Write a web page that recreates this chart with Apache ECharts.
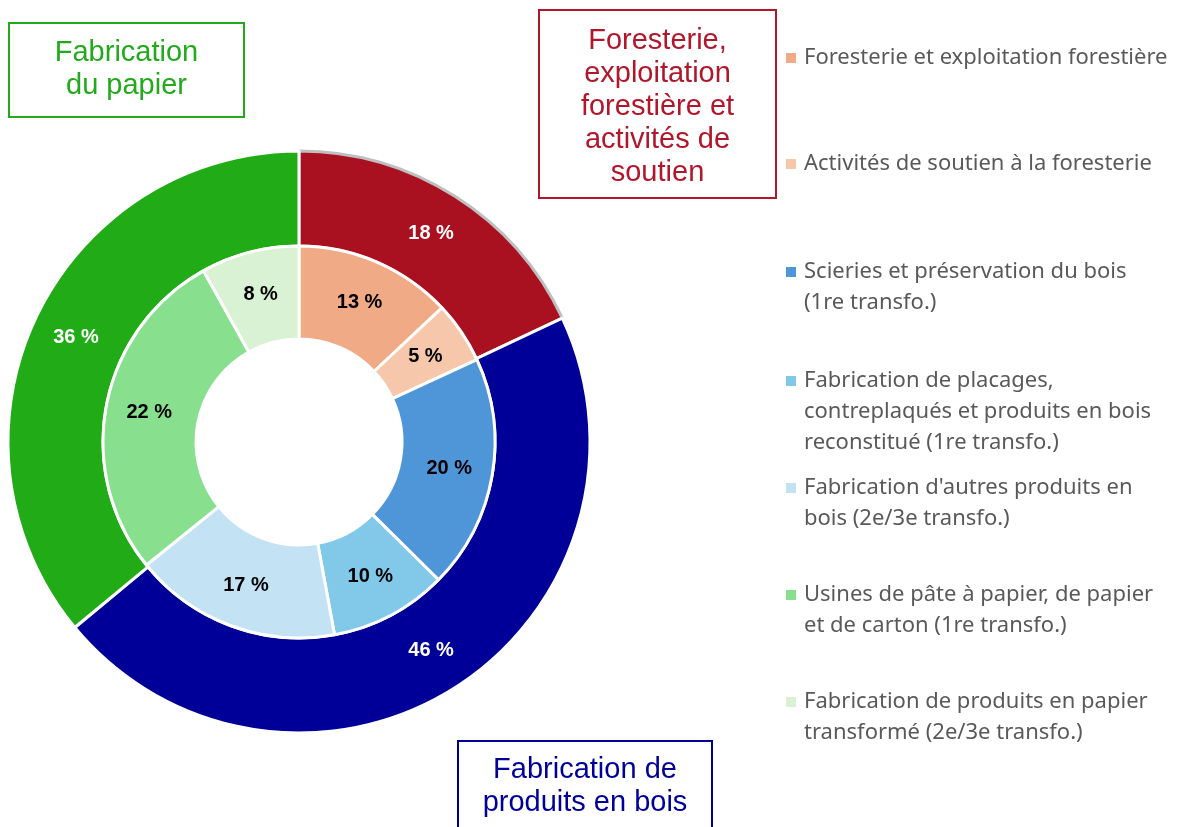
<!DOCTYPE html>
<html><head><meta charset="utf-8">
<script src="https://cdn.jsdelivr.net/npm/echarts@6/dist/echarts.min.js"></script>
<style>html,body{margin:0;padding:0;background:#fff}#c{width:1182px;height:827px}</style>
</head><body><div id="c"></div>
<script>
// Outer ring: groups
const groupNames = ['Foresterie, exploitation forestière et activités de soutien', 'Fabrication de produits en bois', 'Fabrication du papier'];
const groupValues = [18, 46, 36];
const groupLabels = ['18 %', '46 %', '36 %'];
const groupColors = ['#aa1120', '#000099', '#20ab17'];

// Inner ring: sub-sectors (labels as printed)
const subNames = [
  'Foresterie et exploitation forestière',
  'Activités de soutien à la foresterie',
  'Scieries et préservation du bois (1re transfo.)',
  'Fabrication de placages, contreplaqués et produits en bois reconstitué (1re transfo.)',
  "Fabrication d'autres produits en bois (2e/3e transfo.)",
  'Usines de pâte à papier, de papier et de carton (1re transfo.)',
  'Fabrication de produits en papier transformé (2e/3e transfo.)'
];
const subLegendText = [
  'Foresterie et exploitation forestière',
  'Activités de soutien à la foresterie',
  'Scieries et préservation du bois\n(1re transfo.)',
  'Fabrication de placages,\ncontreplaqués et produits en bois\nreconstitué (1re transfo.)',
  "Fabrication d'autres produits en\nbois (2e/3e transfo.)",
  'Usines de pâte à papier, de papier\net de carton (1re transfo.)',
  'Fabrication de produits en papier\ntransformé (2e/3e transfo.)'
];
const subValues = [13, 5.1, 19.3, 9.7, 17.1, 27.7, 8.1];
const subLabels = ['13 %', '5 %', '20 %', '10 %', '17 %', '22 %', '8 %'];
const subColors = ['#f0aa85', '#f6c7aa', '#4f96d8', '#81c8e9', '#c3e3f4', '#88e08f', '#d8f2d3'];

// Group boxes text
const boxTexts = ['Fabrication\ndu papier', 'Foresterie,\nexploitation\nforestière et\nactivités de\nsoutien', 'Fabrication de\nproduits en bois'];

const chart = echarts.init(document.getElementById('c'), null, {renderer: 'canvas'});

const legendFirstLine = [58, 164, 272, 381, 488, 595, 702];
const LH = 31;
const legends = subNames.map((n, i) => {
  const lines = subLegendText[i].split('\n').length;
  const h = 10 + (lines - 1) * LH;
  return {
    data: [{name: n, icon: lines === 1 ? 'rect' : 'path://M0,0H10V10H0Z M0,' + h + 'H10'}],
    orient: 'vertical',
    left: 786,
    top: legendFirstLine[i] - LH / 2,
    padding: 0,
    itemWidth: 10,
    itemHeight: h,
    itemGap: 0,
    selectedMode: false,
    itemStyle: {borderWidth: 0},
    formatter: () => subLegendText[i],
    textStyle: {color: '#595959', fontSize: 22, lineHeight: LH, fontFamily: 'Noto Sans', padding: [0, 0, 0, 3]}
  };
});

const boxFont = '29px "Liberation Sans", Arial, sans-serif';
function box(x, y, w, h, color, text, ty) {
  return {
    type: 'group', left: x, top: y,
    children: [
      {type: 'rect', shape: {x: 0, y: 0, width: w, height: h}, style: {fill: '#fff', stroke: color, lineWidth: 2}},
      {type: 'text', x: w / 2, y: ty, style: {text: text, fill: color, font: boxFont, align: 'center', verticalAlign: 'middle', lineHeight: 33}}
    ]
  };
}

chart.setOption({
  animation: false,
  backgroundColor: '#fff',
  legend: legends,
  graphic: [
    box(8, 22, 235, 94, '#22aa1c', boxTexts[0], 46),
    box(538, 9, 237, 188, '#b0172b', boxTexts[1], 97),
    box(457, 740, 254, 100, '#000099', boxTexts[2], 45)
  ],
  series: [
    {
      type: 'pie', name: 'Groupes',
      center: [299, 442], radius: [196, 291],
      startAngle: 90, clockwise: true,
      avoidLabelOverlap: false,
      label: {show: true, position: 'inside', formatter: p => groupLabels[p.dataIndex], color: '#fff', fontSize: 20, fontWeight: 'bold', fontFamily: 'Liberation Sans'},
      labelLine: {show: false},
      emphasis: {disabled: true},
      data: groupNames.map((n, i) => ({
        name: n, value: groupValues[i],
        itemStyle: {color: groupColors[i], borderColor: i === 0 ? '#bfbfbf' : '#fff', borderWidth: 3}
      }))
    },
    {
      type: 'pie', name: 'Sous-secteurs',
      center: [299, 442], radius: [103, 196],
      startAngle: 90, clockwise: true,
      avoidLabelOverlap: false,
      label: {show: true, position: 'inside', formatter: p => subLabels[p.dataIndex], color: '#000', fontSize: 20, fontWeight: 'bold', fontFamily: 'Liberation Sans'},
      labelLine: {show: false},
      emphasis: {disabled: true},
      data: subNames.map((n, i) => ({
        name: n, value: subValues[i],
        itemStyle: {color: subColors[i], borderColor: '#fff', borderWidth: 3}
      }))
    }
  ]
});
</script>
</body></html>
